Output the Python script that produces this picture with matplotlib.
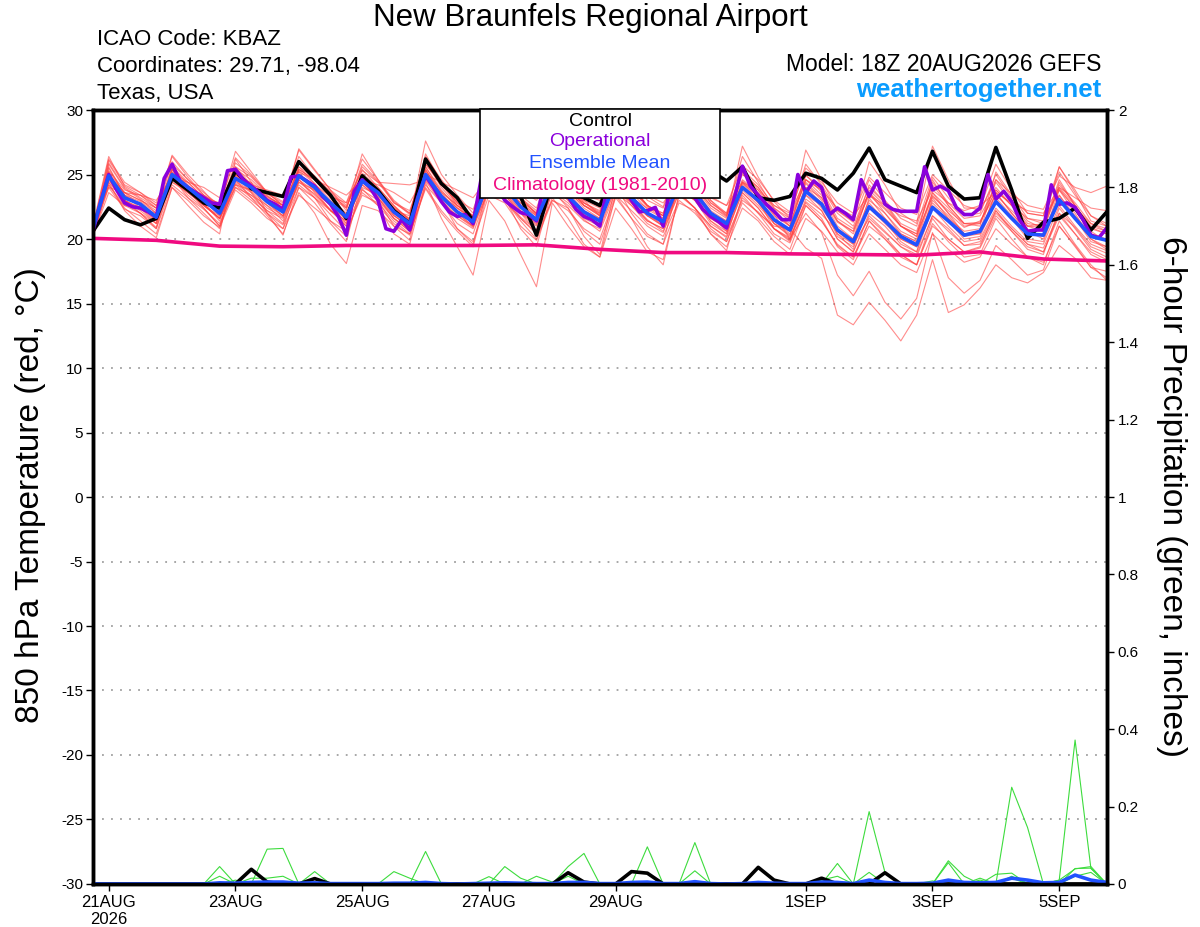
import numpy as np
import matplotlib.pyplot as plt
from matplotlib.patches import Rectangle

plt.rcParams['font.family'] = ['Liberation Sans', 'DejaVu Sans']
plt.rcParams['axes.unicode_minus'] = False

# time axis: hours after 18Z 20AUG2026
hours = np.arange(0, 385, 6)
hours_op = np.arange(0, 385, 3)
hours_clim = np.arange(0, 385, 24)

# 850 hPa temperature, control run (6-hourly)
control_t = [20.6,
             22.4, 21.5, 21.1, 21.6, 24.7, 23.8, 22.8, 22.4, 25.3, 23.9, 23.6, 23.3,
             26.0, 24.7, 23.4, 21.6, 24.9, 23.75, 22.2, 21.2, 26.2, 24.3, 23.2, 21.4,
             25.5, 24.8, 23.3, 20.3, 24.5, 23.8, 23.2, 22.6, 25.3, 24.8, 24.0, 23.5,
             25.8, 25.3, 25.3, 24.5, 25.6, 23.2, 23.0, 23.3, 25.1, 24.7, 23.8, 25.1,
             27.05, 24.6, 24.1, 23.6, 26.8, 24.1, 23.1, 23.2, 27.1, 23.8, 20.05, 21.3,
             21.6, 22.4, 20.7, 22.1]

# operational run (3-hourly)
oper_t = [20.6,
          22.9, 25.0, 23.8, 22.8, 22.5, 22.4, 22.1, 21.7,
          24.7, 25.8, 24.5, 24.0, 23.6, 23.2, 22.8, 22.7,
          25.3, 25.4, 24.6, 24.1, 23.6, 23.0, 22.7, 22.3,
          24.8, 24.9, 24.5, 24.1, 23.3, 22.7, 21.75, 20.3,
          23.7, 24.6, 24.0, 23.0, 20.8, 20.6, 21.5, 20.7,
          23.2, 24.9, 24.0, 22.9, 22.1, 21.75, 21.9, 21.2,
          24.6, 25.3, 24.2, 23.0, 22.5, 22.05, 21.9, 21.4,
          24.5, 25.2, 24.4, 23.3, 22.3, 21.75, 21.5, 21.0,
          24.3, 25.0, 24.0, 23.0, 22.1, 22.2, 22.45, 21.0,
          24.5, 25.3, 24.3, 23.2, 22.3, 21.75, 21.35, 20.85,
          23.2, 25.65, 24.1, 23.4, 22.7, 22.15, 21.5, 21.5,
          25.0, 23.6, 24.5, 24.0, 21.9, 22.4, 22.0, 21.5,
          24.6, 23.3, 24.5, 22.7, 22.3, 22.15, 22.15, 22.15,
          25.6, 23.8, 24.1, 23.75, 22.45, 21.9, 21.9, 22.4,
          25.0, 23.1, 23.7, 22.9, 21.5, 20.6, 20.7, 20.7,
          24.2, 22.7, 22.8, 22.45, 21.5, 20.3, 20.1, 20.85]

# ensemble mean (6-hourly)
mean_t = [20.8,
          24.9, 23.2, 22.7, 21.7, 25.0, 24.0, 23.0, 22.0, 24.7, 24.0, 22.9, 22.1,
          24.9, 24.0, 22.8, 21.7, 24.5, 23.6, 22.1, 21.2, 25.0, 23.3, 22.1, 21.35,
          24.6, 24.0, 22.5, 21.5, 24.4, 23.3, 22.1, 21.4, 24.5, 23.2, 22.0, 21.35,
          24.3, 23.6, 22.0, 21.2, 24.0, 23.0, 21.5, 20.7, 23.7, 22.7, 20.7, 19.8,
          22.5, 21.4, 20.2, 19.55, 22.45, 21.4, 20.3, 20.6, 22.9, 21.6, 20.4, 20.3,
          23.05, 21.6, 20.2, 19.9]

# climatology 1981-2010 (daily)
clim_t = [20.05, 19.9, 19.45, 19.4, 19.5, 19.5, 19.5, 19.55, 19.2,
          18.95, 18.95, 18.85, 18.8, 18.75, 19.0, 18.45, 18.3]

# ensemble members (6-hourly)
member_temps = [
    [20.4, 25.8, 23.9, 23.1, 22.0, 26.0, 24.6, 23.4, 22.5, 25.6, 24.8, 23.5, 22.8,
     25.9, 24.9, 23.6, 22.4, 25.8, 24.5, 22.9, 21.9, 26.4, 24.6, 23.0, 22.3,
     25.4, 24.4, 23.2, 22.0, 25.3, 24.0, 23.0, 22.4, 25.6, 24.5, 23.3, 22.5,
     25.8, 24.9, 23.3, 22.6, 25.7, 24.6, 23.0, 22.1, 25.5, 24.4, 22.8, 22.0,
     24.8, 23.6, 22.4, 21.9, 25.0, 23.8, 22.6, 22.2, 24.6, 23.5, 22.6, 22.3,
     24.9, 24.0, 23.6, 24.1],
    [20.9, 24.2, 22.6, 22.0, 21.2, 24.4, 23.6, 22.7, 21.6, 24.0, 23.4, 22.6, 21.4,
     24.4, 23.5, 22.3, 21.0, 23.8, 23.0, 21.6, 20.6, 24.5, 22.8, 21.8, 21.0,
     23.8, 23.0, 21.6, 20.5, 23.6, 22.6, 21.4, 20.8, 23.9, 22.8, 21.5, 20.6,
     23.6, 22.4, 21.0, 20.1, 23.0, 22.1, 20.8, 20.1, 22.9, 21.9, 20.6, 19.6,
     21.6, 20.5, 19.4, 18.6, 21.8, 20.8, 19.5, 19.8, 22.2, 20.8, 19.6, 19.3,
     22.0, 20.9, 19.4, 18.9],
    [21.0, 26.4, 24.1, 23.4, 22.4, 26.5, 25.0, 23.7, 22.3, 25.9, 24.9, 23.6, 22.6,
     25.4, 24.6, 23.4, 22.5, 25.1, 24.0, 22.6, 21.5, 27.6, 25.0, 23.4, 22.0,
     25.8, 24.9, 23.2, 22.2, 25.0, 24.2, 22.8, 22.0, 25.4, 23.8, 22.5, 21.6,
     25.0, 24.2, 22.6, 21.7, 27.2, 24.8, 22.9, 21.6, 24.4, 23.2, 21.3, 20.6,
     23.4, 22.3, 21.0, 20.4, 23.3, 22.2, 21.2, 21.3, 23.8, 22.6, 21.0, 20.9,
     23.9, 22.4, 20.9, 20.4],
    [20.5, 25.2, 23.0, 22.0, 20.9, 25.4, 23.8, 22.4, 21.0, 24.9, 23.6, 22.0, 20.8,
     24.6, 23.2, 21.4, 20.2, 23.9, 22.6, 20.4, 19.6, 24.4, 21.6, 19.4, 17.2,
     23.0, 21.4, 18.8, 16.3, 22.8, 21.0, 19.4, 18.6, 23.4, 21.6, 19.4, 18.0,
     23.5, 22.4, 20.4, 19.1, 23.4, 22.0, 20.4, 19.7, 22.6, 21.4, 19.5, 18.6,
     21.4, 20.0, 18.8, 18.0, 21.0, 20.0, 19.0, 19.3, 21.8, 20.6, 19.4, 19.0,
     22.0, 20.4, 18.8, 18.2],
    [20.7, 24.6, 23.0, 22.4, 21.8, 24.7, 23.7, 22.9, 22.0, 24.5, 23.7, 22.6, 21.8,
     24.6, 23.7, 22.6, 21.5, 24.2, 23.2, 21.8, 21.0, 24.7, 23.1, 22.0, 21.0,
     24.3, 23.6, 22.2, 21.1, 24.0, 23.0, 21.6, 21.0, 24.0, 22.6, 21.2, 20.5,
     23.6, 22.4, 20.8, 19.8, 23.2, 22.0, 21.0, 20.8, 19.3, 18.5, 14.1, 13.35,
     15.1, 13.7, 12.1, 14.1, 18.4, 14.3, 14.9, 16.2, 18.0, 17.0, 16.6, 17.4,
     19.5, 18.5, 17.0, 16.8],
    [20.6, 25.0, 23.6, 23.0, 22.2, 25.2, 24.4, 23.2, 22.4, 25.0, 24.2, 23.3, 22.6,
     25.3, 24.3, 23.0, 21.9, 24.8, 23.8, 22.5, 21.5, 25.3, 23.7, 22.6, 21.8,
     25.0, 24.3, 22.8, 21.8, 24.8, 23.6, 22.6, 21.9, 24.9, 23.6, 22.3, 21.6,
     24.5, 23.8, 22.2, 21.4, 24.3, 23.3, 21.9, 20.0, 22.0, 20.5, 17.2, 15.6,
     17.5, 15.1, 13.8, 15.4, 20.5, 17.0, 15.8, 16.8, 19.5, 18.4, 17.2, 17.6,
     21.0, 19.5, 17.8, 17.5],
    [20.2, 23.6, 22.6, 22.4, 22.0, 24.4, 23.8, 23.2, 22.8, 24.2, 23.8, 23.0, 22.4,
     24.8, 24.2, 23.3, 22.8, 25.3, 24.4, 24.3, 24.2, 24.6, 23.0, 21.6, 20.8,
     24.0, 23.4, 22.0, 20.6, 24.9, 23.6, 22.8, 22.1, 24.0, 23.2, 22.4, 22.0,
     25.0, 24.0, 22.6, 21.8, 24.6, 23.6, 22.0, 21.2, 24.6, 23.8, 21.6, 20.8,
     23.6, 22.0, 20.4, 19.8, 23.4, 22.0, 20.9, 21.4, 23.4, 22.2, 21.0, 21.2,
     24.0, 22.6, 21.0, 20.6],
    [20.9, 25.5, 23.4, 22.6, 21.4, 25.6, 24.2, 23.0, 21.8, 25.2, 24.3, 22.8, 21.8,
     25.6, 24.3, 22.7, 21.2, 24.9, 23.8, 21.9, 20.7, 25.6, 23.6, 22.0, 21.0,
     25.3, 24.6, 22.6, 21.4, 25.0, 23.5, 21.9, 21.0, 25.2, 23.4, 21.8, 21.0,
     24.8, 24.0, 21.9, 20.6, 24.5, 23.4, 21.2, 20.2, 24.3, 23.0, 20.4, 19.2,
     23.2, 21.6, 20.0, 19.4, 23.0, 21.8, 20.4, 20.4, 23.6, 22.0, 20.6, 20.2,
     23.8, 22.0, 20.0, 19.4],
    [20.3, 24.0, 22.3, 21.8, 20.8, 24.2, 23.2, 22.3, 21.2, 24.0, 23.0, 22.0, 21.1,
     24.0, 23.2, 21.9, 20.6, 23.6, 22.6, 21.2, 20.3, 24.2, 22.8, 21.2, 20.4,
     23.9, 23.2, 21.7, 20.7, 23.7, 22.8, 21.5, 20.6, 23.6, 22.6, 21.4, 20.8,
     23.9, 23.0, 21.2, 20.4, 23.6, 22.4, 20.8, 19.9, 23.1, 22.2, 20.0, 19.0,
     21.8, 20.6, 19.4, 18.8, 21.8, 20.6, 19.5, 19.6, 22.0, 20.8, 19.6, 19.0,
     21.8, 20.4, 19.0, 18.4],
    [20.8, 25.3, 23.8, 23.4, 22.6, 24.8, 24.0, 23.4, 22.7, 26.3, 25.0, 23.6, 22.9,
     26.4, 24.8, 23.7, 22.6, 25.4, 24.0, 22.6, 21.4, 26.6, 24.4, 22.8, 21.7,
     25.7, 24.8, 23.0, 22.0, 25.8, 24.6, 22.8, 22.2, 25.8, 24.2, 22.6, 22.0,
     25.4, 24.6, 22.8, 21.9, 25.0, 24.0, 22.4, 21.6, 24.9, 24.0, 22.0, 21.0,
     24.0, 22.8, 21.2, 20.6, 24.4, 22.8, 21.6, 21.8, 24.0, 22.6, 21.6, 21.4,
     23.8, 22.4, 21.2, 20.6],
    [20.4, 24.4, 23.0, 22.4, 21.4, 25.4, 24.1, 22.7, 21.6, 24.4, 23.6, 22.4, 21.7,
     24.4, 23.8, 22.9, 21.6, 24.0, 23.4, 21.8, 21.0, 25.4, 23.4, 22.4, 21.6,
     24.0, 23.4, 22.0, 21.2, 24.6, 23.6, 22.2, 21.6, 24.0, 22.8, 21.8, 21.0,
     24.0, 23.0, 21.6, 20.9, 23.8, 22.6, 21.2, 20.3, 23.4, 22.2, 20.0, 19.0,
     22.0, 21.0, 19.6, 19.0, 22.4, 21.0, 19.8, 20.0, 22.4, 21.0, 19.8, 19.6,
     22.6, 21.0, 19.6, 19.1],
    [20.6, 25.9, 24.0, 23.2, 22.4, 26.4, 24.8, 23.4, 22.4, 26.8, 25.2, 23.6, 22.6,
     26.9, 25.3, 23.8, 22.2, 26.6, 24.6, 22.8, 22.0, 26.2, 24.2, 22.9, 21.6,
     26.0, 25.0, 23.2, 21.9, 26.3, 24.6, 23.0, 21.8, 25.6, 24.0, 22.6, 21.8,
     26.2, 25.0, 23.0, 22.0, 26.4, 24.4, 22.4, 21.4, 26.9, 24.6, 22.2, 21.3,
     26.0, 24.2, 22.0, 21.2, 27.2, 24.6, 22.4, 22.4, 25.8, 23.8, 22.0, 21.8,
     25.6, 23.6, 21.4, 21.0],
    [20.5, 24.6, 22.8, 22.0, 20.8, 24.8, 23.4, 22.4, 21.0, 24.2, 23.2, 21.8, 20.4,
     23.6, 22.0, 19.6, 18.1, 22.6, 22.2, 21.0, 20.4, 24.0, 22.2, 20.8, 19.8,
     23.4, 22.8, 21.0, 19.9, 23.0, 22.4, 20.6, 19.6, 23.2, 21.6, 20.2, 19.6,
     22.8, 22.2, 20.4, 19.4, 22.4, 21.4, 19.8, 18.8, 21.6, 20.6, 19.0, 18.0,
     20.4, 19.2, 18.0, 17.4, 20.4, 19.2, 18.2, 18.6, 20.8, 19.6, 18.6, 18.2,
     21.0, 19.4, 17.8, 17.0],
    [21.0, 24.8, 23.4, 22.9, 22.0, 25.0, 24.0, 22.8, 21.4, 24.6, 24.4, 23.3, 22.6,
     24.9, 23.8, 22.2, 21.4, 24.8, 23.4, 22.4, 21.6, 25.0, 23.0, 21.8, 20.9,
     24.4, 23.8, 22.6, 21.8, 24.6, 23.2, 21.9, 21.4, 24.8, 23.4, 22.0, 21.0,
     24.0, 23.2, 21.6, 20.8, 24.2, 22.9, 21.4, 20.4, 23.9, 22.4, 20.6, 19.8,
     22.6, 21.6, 20.4, 19.8, 22.8, 21.6, 20.6, 20.8, 23.2, 21.8, 20.4, 20.4,
     23.4, 21.8, 20.4, 20.0],
    [20.7, 26.1, 24.2, 23.6, 22.8, 25.8, 24.6, 23.6, 22.6, 25.4, 24.6, 23.4, 22.4,
     25.6, 24.7, 23.2, 22.4, 25.6, 24.4, 22.8, 22.2, 25.8, 24.4, 22.6, 21.8,
     25.6, 25.0, 23.4, 22.4, 25.6, 24.0, 22.6, 22.0, 26.0, 24.8, 23.0, 22.4,
     25.3, 24.4, 22.8, 22.0, 25.4, 24.2, 22.6, 21.8, 25.8, 24.2, 22.2, 21.4,
     24.6, 23.0, 21.6, 21.0, 24.8, 23.2, 21.8, 22.0, 25.0, 23.2, 22.0, 21.8,
     25.2, 23.4, 21.8, 21.2],
    [20.3, 24.2, 22.4, 21.4, 20.4, 24.0, 23.0, 21.8, 20.9, 23.8, 22.8, 21.6, 20.8,
     23.4, 22.4, 21.4, 20.6, 23.4, 22.8, 21.4, 20.4, 23.9, 22.0, 20.6, 19.4,
     24.0, 23.0, 21.6, 20.4, 23.0, 22.2, 20.8, 20.0, 23.4, 22.2, 21.0, 20.2,
     23.0, 22.0, 20.6, 19.8, 22.8, 21.6, 20.2, 19.2, 22.6, 21.4, 19.6, 18.6,
     21.0, 20.0, 18.6, 18.0, 21.2, 19.8, 18.6, 18.8, 21.6, 20.0, 18.6, 18.0,
     21.4, 19.6, 18.0, 16.8],
    [20.8, 25.0, 23.2, 22.8, 21.8, 25.6, 24.4, 23.2, 22.2, 25.0, 24.0, 23.0, 22.4,
     25.4, 24.6, 23.2, 22.0, 25.0, 23.6, 22.4, 21.4, 25.6, 23.8, 22.4, 21.6,
     25.2, 24.0, 22.8, 21.9, 25.4, 24.0, 22.6, 21.8, 25.2, 24.0, 22.6, 21.8,
     24.8, 24.0, 22.4, 21.6, 25.2, 23.8, 22.0, 21.0, 24.6, 23.4, 21.4, 20.4,
     23.6, 22.4, 21.0, 20.4, 24.2, 22.6, 21.2, 21.2, 24.4, 22.8, 21.2, 21.0,
     24.6, 22.6, 20.8, 20.4],
    [20.6, 25.2, 23.6, 22.6, 21.6, 24.6, 23.6, 22.6, 21.6, 24.3, 23.4, 22.2, 21.6,
     24.2, 23.2, 22.2, 21.2, 24.4, 23.2, 21.6, 20.8, 25.0, 23.4, 22.4, 21.4,
     24.8, 23.8, 22.2, 21.4, 24.2, 23.0, 21.8, 21.2, 24.6, 23.0, 21.8, 21.2,
     24.4, 23.4, 21.8, 21.0, 24.0, 22.8, 21.4, 20.6, 23.4, 22.6, 20.4, 19.6,
     22.4, 21.2, 20.0, 19.4, 22.6, 21.4, 20.0, 20.2, 23.0, 21.6, 20.0, 19.8,
     23.2, 21.6, 19.8, 19.4],
    [20.2, 24.4, 22.2, 21.0, 20.1, 24.0, 22.6, 21.3, 20.4, 26.2, 24.4, 22.0, 20.3,
     24.0, 22.8, 21.2, 19.8, 24.6, 23.0, 21.0, 19.9, 25.2, 23.0, 20.8, 19.6,
     24.4, 23.2, 20.8, 19.4, 23.8, 22.4, 20.2, 18.8, 24.2, 22.0, 20.4, 19.6,
     24.6, 23.4, 21.4, 20.4, 24.4, 23.0, 20.8, 19.8, 23.8, 22.8, 20.2, 19.4,
     22.8, 21.4, 19.8, 19.0, 23.2, 21.6, 20.2, 20.4, 23.6, 22.0, 20.6, 20.0,
     23.4, 21.6, 20.0, 19.2],
    [21.2, 24.0, 23.6, 23.4, 23.0, 24.8, 24.4, 24.0, 23.2, 24.8, 24.2, 23.8, 23.4,
     25.2, 24.6, 24.0, 23.4, 24.6, 24.2, 23.6, 22.8, 25.0, 24.4, 23.8, 23.2,
     24.8, 24.6, 23.8, 23.0, 24.6, 24.0, 23.4, 23.0, 24.8, 24.2, 23.4, 22.8,
     24.6, 24.2, 23.2, 22.6, 24.4, 23.8, 22.6, 22.0, 24.6, 23.8, 22.4, 21.8,
     23.4, 22.6, 21.8, 21.4, 23.8, 22.8, 22.2, 22.6, 23.6, 22.8, 22.2, 22.0,
     24.0, 23.2, 22.4, 22.2],
    [20.6, 25.0, 23.0, 22.2, 21.2, 25.4, 23.8, 22.6, 21.6, 25.0, 23.8, 22.8, 21.8,
     25.2, 23.6, 22.2, 21.0, 24.6, 23.4, 22.0, 21.0, 25.4, 23.4, 22.2, 21.2,
     24.2, 23.0, 21.4, 20.0, 23.2, 21.6, 19.6, 18.6, 22.4, 20.8, 19.0, 18.4,
     23.4, 22.4, 21.0, 20.2, 24.0, 22.8, 21.2, 20.6, 24.0, 23.2, 21.0, 20.0,
     23.0, 22.0, 20.6, 20.0, 23.6, 22.4, 21.0, 21.2, 23.8, 22.6, 21.0, 20.6,
     24.2, 22.8, 21.2, 20.8],
    [20.9, 26.2, 24.4, 23.6, 22.6, 25.0, 23.6, 22.6, 21.8, 25.6, 24.2, 23.2, 22.6,
     27.0, 25.4, 23.8, 22.8, 26.2, 24.6, 23.0, 22.0, 25.8, 24.2, 22.8, 21.8,
     26.0, 24.8, 23.0, 22.0, 25.4, 24.4, 22.6, 21.8, 25.0, 24.0, 22.6, 21.8,
     25.6, 24.8, 23.0, 21.8, 25.2, 24.0, 22.2, 21.0, 24.0, 22.8, 20.8, 20.0,
     23.8, 22.6, 21.0, 20.2, 23.6, 22.0, 20.4, 20.6, 24.6, 23.0, 21.4, 20.8,
     24.4, 22.6, 20.6, 19.8],
    [20.4, 25.6, 23.4, 22.4, 21.2, 24.8, 23.2, 22.0, 20.8, 24.6, 23.2, 22.2, 21.2,
     24.6, 23.4, 22.2, 21.4, 24.2, 23.2, 21.6, 20.6, 24.8, 23.6, 22.6, 21.8,
     24.6, 23.6, 22.0, 21.0, 24.4, 23.2, 22.0, 21.4, 24.4, 22.8, 21.4, 20.8,
     23.8, 23.0, 21.4, 20.6, 23.6, 22.4, 20.8, 20.0, 22.8, 21.6, 19.4, 18.4,
     21.4, 20.2, 18.8, 18.0, 21.6, 20.0, 19.0, 19.4, 22.2, 20.6, 19.2, 18.8,
     22.4, 20.8, 19.2, 18.6],
    [20.6, 24.8, 23.6, 23.0, 22.4, 25.2, 23.8, 22.6, 21.6, 24.8, 24.0, 23.0, 22.0,
     25.0, 24.2, 22.6, 21.6, 24.4, 23.4, 22.2, 21.8, 26.0, 24.0, 22.6, 21.4,
     25.0, 24.2, 22.6, 21.6, 24.6, 23.8, 22.4, 21.6, 24.4, 23.8, 22.6, 21.8,
     24.8, 23.6, 22.0, 21.4, 24.4, 23.4, 21.8, 21.0, 25.0, 23.6, 21.4, 20.6,
     24.2, 22.8, 21.0, 20.2, 24.6, 22.6, 21.2, 21.0, 25.2, 23.4, 21.6, 21.2,
     25.6, 23.8, 21.8, 21.0],
]

# 6-hour precipitation (inches)
control_p = [0,
             0, 0, 0, 0, 0, 0, 0, 0, 0, .038, .005, 0, 0, .014, 0, 0,
             0, 0, 0, 0, 0, 0, 0, 0, 0, 0, 0, 0, 0, .029, .005, 0,
             0, .032, .028, 0, 0, 0, 0, 0, 0, .043, .01, 0, 0, .015, 0, 0,
             0, .029, 0, 0, 0, 0, 0, 0, 0, 0, 0, 0, 0, 0, 0, 0]
mean_p = [0,
          0, 0, 0, 0, 0, 0, 0, .003, .002, .004, .005, .005, .002, .003, .001, .001,
          .001, .001, .002, .002, .004, .001, 0, .001, .002, .003, .002, .001,
          .001, .004, .004, .001, .001, .004, .005, .001, .001, .006, .001, 0,
          .001, .004, .002, .001, .001, .005, .004, .001, .01, .004, .001, .001,
          .002, .01, .004, .003, .004, .015, .01, .003, .004, .023, .01, .004]
member_precip = [
    [0, 0, 0, 0, 0, 0, 0, 0, .045, 0, 0, .09, .092, 0, 0, 0, 0,
     0, 0, 0, 0, 0, 0, 0, 0, 0, 0, 0, 0, 0, .045, .079, 0,
     0, 0, 0, 0, 0, 0, 0, 0, 0, 0, 0, 0, 0, 0, 0, 0,
     .187, .03, 0, 0, 0, 0, 0, 0, 0, 0, 0, 0, 0, 0, 0, 0],
    [0, 0, 0, 0, 0, 0, 0, 0, .02, 0, .015, .015, .02, 0, .032, 0, 0,
     0, 0, 0, 0, .084, 0, 0, 0, 0, 0, 0, 0, 0, 0, 0, 0,
     0, 0, 0, 0, 0, .107, 0, 0, 0, 0, 0, 0, 0, 0, 0, 0,
     0, 0, 0, 0, 0, 0, 0, 0, 0, .25, .146, 0, 0, 0, 0, 0],
    [0, 0, 0, 0, 0, 0, 0, 0, 0, 0, 0, 0, 0, 0, 0, 0, 0,
     0, 0, .032, .015, 0, 0, 0, 0, 0, .045, .015, 0, 0, 0, 0, 0,
     0, 0, .096, 0, 0, 0, 0, 0, 0, 0, 0, 0, 0, 0, .053, 0,
     0, 0, 0, 0, 0, 0, 0, 0, 0, 0, 0, 0, .01, .372, .04, 0],
    [0, 0, 0, 0, 0, 0, 0, 0, 0, 0, 0, 0, 0, 0, 0, 0, 0,
     0, 0, 0, 0, 0, 0, 0, 0, .019, 0, 0, .02, .005, 0, 0, 0,
     0, 0, 0, 0, 0, .034, 0, 0, 0, 0, 0, 0, 0, 0, 0, 0,
     0, 0, 0, 0, 0, .06, .02, 0, .025, .028, 0, 0, 0, .04, .041, 0],
    [0, 0, 0, 0, 0, 0, 0, 0, 0, .01, 0, 0, 0, 0, 0, 0, 0,
     0, 0, 0, 0, 0, 0, 0, 0, 0, 0, 0, 0, 0, .02, 0, 0,
     0, 0, 0, 0, 0, 0, 0, 0, 0, 0, 0, 0, 0, 0, 0, 0,
     0, 0, 0, 0, 0, .055, 0, .015, 0, .02, 0, 0, .01, .039, .045, 0],
    [0, 0, 0, 0, 0, 0, 0, 0, 0, 0, 0, 0, 0, 0, 0, 0, 0,
     0, 0, 0, 0, 0, 0, 0, 0, 0, 0, 0, 0, 0, 0, 0, 0,
     0, 0, 0, 0, 0, 0, 0, 0, 0, 0, 0, 0, 0, .01, .02, 0,
     .03, 0, 0, 0, .008, 0, 0, .01, 0, .015, 0, 0, 0, .02, .03, 0],
]

date_hours = [6, 54, 102, 150, 198, 270, 318, 366]
date_labels = ['21AUG\n2026', '23AUG', '25AUG', '27AUG', '29AUG', '1SEP', '3SEP', '5SEP']
temp_ticks = list(range(-30, 31, 5))
precip_ticks = [0, 0.2, 0.4, 0.6, 0.8, 1, 1.2, 1.4, 1.6, 1.8, 2]
precip_labels = ['0', '0.2', '0.4', '0.6', '0.8', '1', '1.2', '1.4', '1.6', '1.8', '2']

fig = plt.figure(figsize=(12, 9.27), dpi=100)
ax = fig.add_axes([0.0774, 0.0464, 0.8449, 0.8349])
ax2 = ax.twinx()

ax.set_xlim(0, 384)
ax.set_ylim(-30, 30)
ax2.set_ylim(0, 2)

# dotted grid
for v in range(-25, 30, 5):
    ax.axhline(v, color='#a0a0a0', lw=1.3, ls=(0, (1, 4)), zorder=0)

# temperature
for m in member_temps:
    ax.plot(hours, m, color='#ff4040', lw=0.8, alpha=0.6)
ax.plot(hours, control_t, color='black', lw=2.6, solid_joinstyle='round')
ax.plot(hours_op, oper_t, color='#8a00dc', lw=2.6, solid_joinstyle='round')
ax.plot(hours, mean_t, color='#2152ff', lw=2.6, solid_joinstyle='round')
ax.plot(hours_clim, clim_t, color='#f00a80', lw=2.6, solid_joinstyle='round')

# precipitation
for p in member_precip:
    ax2.plot(hours, p, color='#3ddc3d', lw=0.8)
ax2.plot(hours, control_p, color='black', lw=2.6, solid_joinstyle='round')
ax2.plot(hours, mean_p, color='#2152ff', lw=2.6, solid_joinstyle='round')

# axes styling
for a in (ax, ax2):
    for s in a.spines.values():
        s.set_linewidth(2.5)
ax.set_yticks(temp_ticks)
ax.set_yticklabels([str(t) for t in temp_ticks])
ax.tick_params(axis='y', direction='out', length=5, width=1, labelsize=11, pad=2)
ax2.set_yticks(precip_ticks)
ax2.set_yticklabels(precip_labels)
ax2.tick_params(axis='y', direction='out', length=5, width=1, labelsize=11, pad=3)
ax.set_xticks(date_hours)
ax.set_xticklabels(date_labels)
ax.tick_params(axis='x', direction='out', length=5, width=1, labelsize=12, pad=3)

# axis titles
fig.text(31 / 1200, 1 - 495 / 927, '850 hPa Temperature (red, °C)', rotation=90,
         ha='center', va='center', fontsize=24)
fig.text(1172 / 1200, 1 - 496 / 927, '6-hour Precipitation (green, inches)', rotation=270,
         ha='center', va='center', fontsize=24)

# header
fig.text(590 / 1200, 1 - 18 / 927, 'New Braunfels Regional Airport', ha='center', va='center',
         fontsize=22.5)
fig.text(97 / 1200, 1 - 45 / 927, 'ICAO Code: KBAZ', va='baseline', fontsize=16)
fig.text(97 / 1200, 1 - 72 / 927, 'Coordinates: 29.71, -98.04', va='baseline', fontsize=16)
fig.text(97 / 1200, 1 - 99 / 927, 'Texas, USA', va='baseline', fontsize=16)
fig.text(1101 / 1200, 1 - 71 / 927, 'Model: 18Z 20AUG2026 GEFS', ha='right', va='baseline',
         fontsize=16.5)
fig.text(1101 / 1200, 1 - 97 / 927, 'weathertogether.net', ha='right', va='baseline',
         fontsize=18.5, fontweight='bold', color='#0a9cff')

# legend box
box = Rectangle((480 / 1200, 1 - 198 / 927), 240 / 1200, 89 / 927, transform=fig.transFigure,
                facecolor='white', edgecolor='black', lw=1.2, zorder=10)
fig.add_artist(box)
legend_items = [('Control', 'black', 121), ('Operational', '#8a00dc', 142),
                ('Ensemble Mean', '#2152ff', 163), ('Climatology (1981-2010)', '#f00a80', 185)]
for name, col, ypix in legend_items:
    fig.text(600 / 1200, 1 - ypix / 927, name, color=col, ha='center', va='center',
             fontsize=14, zorder=11)

fig.savefig('out.png', dpi=100)
